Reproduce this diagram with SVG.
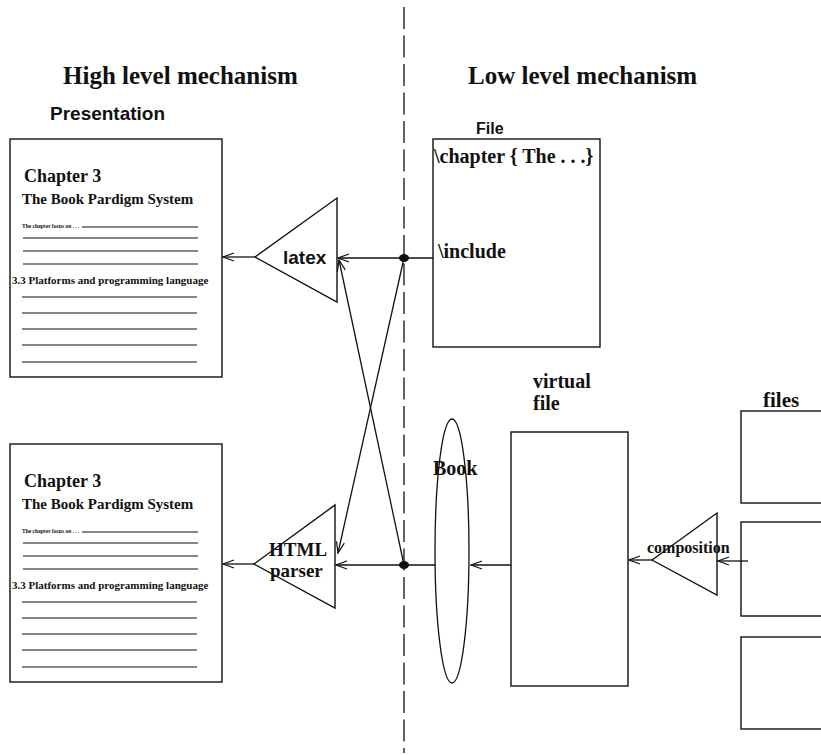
<svg xmlns="http://www.w3.org/2000/svg" width="821" height="755" viewBox="0 0 821 755">
<defs>
<style>
.ln{stroke:#111;stroke-width:1.3;fill:none}
.bx{stroke:#111;stroke-width:1.4;fill:#fff}
.sf{font-family:"Liberation Serif","Times New Roman",serif;font-weight:bold;fill:#111}
.ss{font-family:"Liberation Sans",Arial,sans-serif;font-weight:bold;fill:#111}
.pl{stroke:#111;stroke-width:1.2}
</style>
<marker id="ah" viewBox="-12 -6 14 12" markerWidth="14" markerHeight="12" refX="0" refY="0" orient="auto" markerUnits="userSpaceOnUse">
<path d="M-11,-4 L0,0 L-11,4" fill="none" stroke="#111" stroke-width="1.2"/>
</marker>
<g id="page">
<rect class="bx" x="10" y="139" width="212" height="238"/>
<text class="sf" x="24" y="182" font-size="18">Chapter 3</text>
<text class="sf" x="22" y="204" font-size="15">The Book Pardigm System</text>
<text class="sf" x="22" y="228" font-size="5.5">The chapter focus on . . .</text>
<line class="pl" x1="82" y1="227" x2="198" y2="227"/>
<line class="pl" x1="23" y1="238" x2="198" y2="238"/>
<line class="pl" x1="23" y1="251" x2="198" y2="251"/>
<line class="pl" x1="23" y1="264" x2="198" y2="264"/>
<text class="sf" x="12" y="284" font-size="11">3.3 Platforms and programming language</text>
<line class="pl" x1="22" y1="297" x2="197" y2="297"/>
<line class="pl" x1="22" y1="313" x2="197" y2="313"/>
<line class="pl" x1="22" y1="329" x2="197" y2="329"/>
<line class="pl" x1="22" y1="345" x2="197" y2="345"/>
<line class="pl" x1="22" y1="362" x2="197" y2="362"/>
</g>
</defs>

<g id="headings">
<text class="sf" x="63" y="84" font-size="25">High level mechanism</text>
<text class="sf" x="468" y="84" font-size="25">Low level mechanism</text>
<text class="ss" x="50" y="120" font-size="19">Presentation</text>
</g>

<g id="divider">
<line x1="404" y1="7" x2="404" y2="753" stroke="#111" stroke-width="1.3" stroke-dasharray="22 6.5"/>
</g>

<g id="page1"><use href="#page"/></g>
<g id="page2"><use href="#page" transform="translate(0,305)"/></g>

<g id="latex">
<polygon class="bx" points="255,257 337,198 337,302"/>
<text class="ss" x="283" y="264" font-size="19">latex</text>
</g>

<g id="html-parser">
<polygon class="bx" points="254,564 335,505 335,608"/>
<text class="sf" x="269" y="556" font-size="19">HTML</text>
<text class="sf" x="270" y="577" font-size="19">parser</text>
</g>

<g id="file">
<text class="ss" x="476" y="134" font-size="16">File</text>
<rect class="bx" x="433" y="139" width="167" height="208"/>
<text class="sf" x="434" y="163" font-size="20">\chapter { The . . .}</text>
<text class="sf" x="438" y="258" font-size="20">\include</text>
</g>

<g id="book">
<ellipse class="ln" cx="452" cy="551" rx="17" ry="132"/>
<text class="sf" x="433" y="475" font-size="20">Book</text>
</g>

<g id="virtual-file">
<text class="sf" x="533" y="388" font-size="20">virtual</text>
<text class="sf" x="533" y="410" font-size="20">file</text>
<rect class="bx" x="511" y="432" width="117" height="254"/>
</g>

<g id="composition">
<polygon class="bx" points="652,560 717,513 717,595"/>
<text class="sf" x="647" y="553" font-size="16">composition</text>
</g>

<g id="files">
<text class="sf" x="763" y="407" font-size="21">files</text>
<rect class="bx" x="741" y="411" width="100" height="92"/>
<rect class="bx" x="741" y="522" width="100" height="94"/>
<rect class="bx" x="741" y="637" width="100" height="92"/>
</g>

<g id="connectors">
<line class="ln" x1="255" y1="257" x2="223" y2="257" marker-end="url(#ah)"/>
<line class="ln" x1="433" y1="258" x2="338" y2="258" marker-end="url(#ah)"/>
<line class="ln" x1="404" y1="258" x2="338" y2="553" marker-end="url(#ah)"/>
<line class="ln" x1="404" y1="565" x2="339" y2="260" marker-end="url(#ah)"/>
<line class="ln" x1="254" y1="564" x2="223" y2="564" marker-end="url(#ah)"/>
<line class="ln" x1="435" y1="565" x2="336" y2="565" marker-end="url(#ah)"/>
<line class="ln" x1="511" y1="565" x2="471" y2="565" marker-end="url(#ah)"/>
<line class="ln" x1="652" y1="560" x2="629" y2="560" marker-end="url(#ah)"/>
<line class="ln" x1="748" y1="561" x2="718" y2="561" marker-end="url(#ah)"/>
<ellipse cx="404" cy="258" rx="5" ry="4" fill="#111"/>
<ellipse cx="404" cy="565" rx="5" ry="4" fill="#111"/>
</g>
</svg>
